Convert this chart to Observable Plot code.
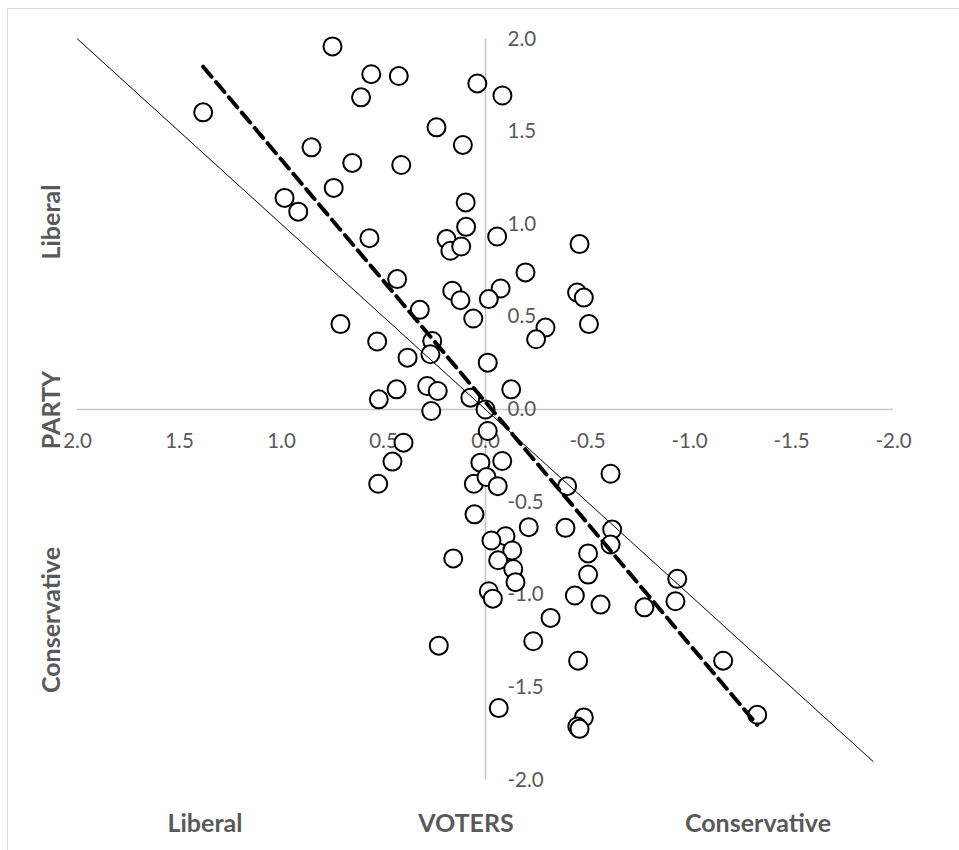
<!DOCTYPE html>
<html><head><meta charset="utf-8">
<script src="https://cdn.jsdelivr.net/npm/d3@7"></script>
<script src="https://cdn.jsdelivr.net/npm/@observablehq/plot@0.6"></script>
<style>
body{margin:0;background:#fff;}
#wrap{position:relative;width:959px;height:850px;overflow:hidden;font-family:Lato, "Open Sans", sans-serif;background:#fff;}
#wrap svg{position:absolute;left:0;top:0;}
.frame{position:absolute;left:7px;top:8px;right:-5px;bottom:-5px;border-left:1px solid #d9d9d9;border-top:1px solid #d9d9d9;}
.t{position:absolute;font-weight:700;font-size:25px;color:#595959;white-space:nowrap;transform:translate(-50%,-50%);line-height:1;}
.r{transform:translate(-50%,-50%) rotate(-90deg);}
</style></head><body><div id="wrap"><div class="frame"></div></div>
<script>
// Voter position (x) and party position (y) for each point
const voterX = [0.75,0.56,0.425,0.04,0.61,-0.083,1.384,0.24,0.853,0.111,0.653,0.413,0.744,0.985,0.918,0.097,0.095,-0.057,0.569,0.191,0.172,0.119,-0.461,-0.196,0.433,0.163,0.123,-0.074,-0.016,-0.449,-0.482,-0.507,-0.294,-0.248,0.711,0.531,0.322,0.06,0.261,0.27,0.382,-0.011,0.436,0.286,0.234,-0.126,0.074,0.0,0.266,0.523,-0.011,0.402,0.456,0.025,-0.082,0.057,-0.005,-0.06,-0.40,-0.613,0.526,0.054,-0.212,-0.392,-0.621,-0.613,-0.098,-0.029,-0.131,0.158,-0.062,-0.503,-0.136,-0.503,-0.147,-0.016,-0.036,-0.438,-0.564,-0.779,-0.319,-0.234,0.229,-0.454,-0.065,-0.482,-0.45,-0.461,-0.94,-0.931,-1.165,-1.332];
const partyY = [1.96,1.81,1.80,1.76,1.685,1.695,1.604,1.523,1.415,1.428,1.331,1.32,1.196,1.142,1.068,1.118,0.986,0.934,0.925,0.92,0.857,0.88,0.893,0.74,0.704,0.641,0.59,0.653,0.596,0.631,0.604,0.461,0.442,0.379,0.461,0.367,0.538,0.491,0.37,0.298,0.28,0.253,0.109,0.127,0.10,0.109,0.064,0.0,-0.008,0.055,-0.116,-0.179,-0.281,-0.287,-0.278,-0.401,-0.365,-0.414,-0.414,-0.347,-0.401,-0.566,-0.635,-0.639,-0.648,-0.729,-0.684,-0.707,-0.761,-0.804,-0.814,-0.777,-0.861,-0.891,-0.932,-0.981,-1.021,-1.004,-1.053,-1.068,-1.125,-1.251,-1.275,-1.356,-1.612,-1.662,-1.711,-1.724,-0.914,-1.035,-1.356,-1.648];
const tickValues = [2.0, 1.5, 1.0, 0.5, 0.0, -0.5, -1.0, -1.5, -2.0];
// 45-degree reference line (party = voters)
const refX = [2.0, -1.9];
// linear trendline
const trendSlope = 1.308;
const trendIntercept = 0.04;
const bottomTitles = ["Liberal", "VOTERS", "Conservative"];
const sideTitles = ["Liberal", "PARTY", "Conservative"];

const points = voterX.map((x, i) => ({x, y: partyY[i]}));
const refLine = refX.map(x => ({x, y: x}));
const [xmin, xmax] = d3.extent(voterX);
const trend = [xmax, xmin].map(x => ({x, y: trendIntercept + trendSlope * x}));
const fmt = d => d.toFixed(1);

const chart = Plot.plot({
  width: 959, height: 850,
  marginLeft: 77, marginRight: 66, marginTop: 38.5, marginBottom: 70.5,
  x: {domain: [2, -2], axis: null},
  y: {domain: [-2, 2], axis: null},
  style: {background: "transparent", fontFamily: "Lato, 'Open Sans', sans-serif"},
  marks: [
    Plot.ruleY([0], {stroke: "#c8c8c8", strokeWidth: 1.5}),
    Plot.ruleX([0], {stroke: "#c8c8c8", strokeWidth: 1.5}),
    Plot.text(tickValues, {x: d => d, y: 0, dy: 32, text: fmt, fontSize: 20.5, fill: "#595959"}),
    Plot.text(tickValues, {x: 0, y: d => d, dx: 22, textAnchor: "start", text: fmt, fontSize: 20.5, fill: "#595959"}),
    Plot.dot(points, {x: "x", y: "y", r: 9, stroke: "black", strokeWidth: 2, fill: "white"}),
    Plot.line(refLine, {x: "x", y: "y", stroke: "black", strokeWidth: 1}),
    Plot.line(trend, {x: "x", y: "y", stroke: "black", strokeWidth: 4, strokeDasharray: "13,7"})
  ]
});
const wrap = document.getElementById("wrap");
wrap.appendChild(chart);

const bx = [205, 466, 758];
bottomTitles.forEach((t, i) => {
  const d = document.createElement("div");
  d.className = "t"; d.textContent = t;
  d.style.left = bx[i] + "px"; d.style.top = "822px";
  wrap.appendChild(d);
});
const sy = [222, 410, 620];
sideTitles.forEach((t, i) => {
  const d = document.createElement("div");
  d.className = "t r"; d.textContent = t;
  d.style.left = "50px"; d.style.top = sy[i] + "px";
  wrap.appendChild(d);
});
</script>
</body></html>
